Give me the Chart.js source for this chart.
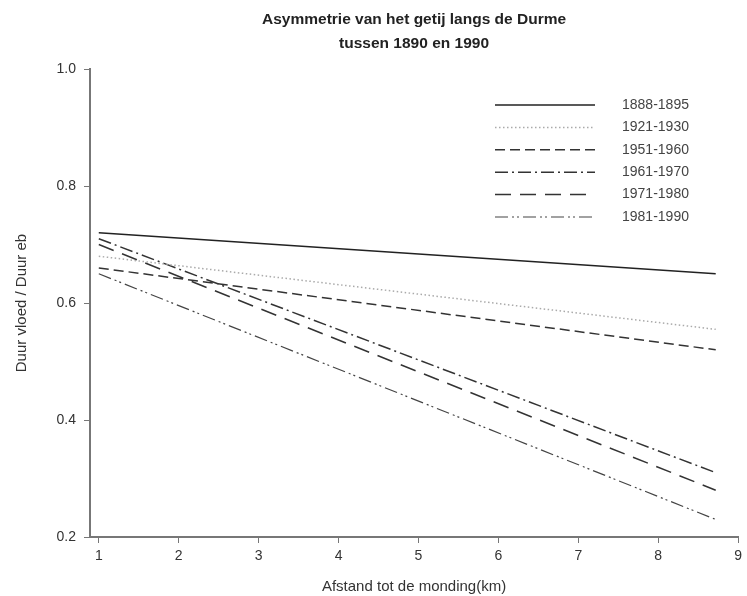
<!DOCTYPE html>
<html>
<head>
<meta charset="utf-8">
<script src="https://cdn.jsdelivr.net/npm/chart.js@4/dist/chart.umd.min.js"></script>
<style>
  html, body { margin: 0; padding: 0; background: #fff; }
  #wrap { width: 747px; height: 596px; }
</style>
</head>
<body>
<div id="wrap"><canvas id="tideChart"></canvas></div>
<script>
// data
const distance = [1, 8.72];
const periods = ['1888-1895', '1921-1930', '1951-1960', '1961-1970', '1971-1980', '1981-1990'];
const ratio1888 = [0.72, 0.65];
const ratio1921 = [0.68, 0.555];
const ratio1951 = [0.66, 0.52];
const ratio1961 = [0.71, 0.31];
const ratio1971 = [0.70, 0.28];
const ratio1981 = [0.65, 0.23];
const xTicks = [1, 2, 3, 4, 5, 6, 7, 8, 9];
const yTicks = [0.2, 0.4, 0.6, 0.8, 1.0];

const seriesValues = [ratio1888, ratio1921, ratio1951, ratio1961, ratio1971, ratio1981];
const lineStyles = [
  { color: '#222', dash: [], width: 1.5 },
  { color: '#aaa', dash: [1.5, 2.5], width: 1.5 },
  { color: '#333', dash: [10, 5], width: 1.5 },
  { color: '#333', dash: [13, 4, 2, 4], width: 1.5 },
  { color: '#333', dash: [16, 9], width: 1.5 },
  { color: '#444', dash: [13, 4, 2, 3, 2, 4], width: 1.2 }
];

const FONT = '"Liberation Sans", Arial, sans-serif';

const datasets = periods.map((label, i) => ({
  label: label,
  data: distance.map((d, j) => ({ x: d, y: seriesValues[i][j] })),
  borderColor: lineStyles[i].color,
  borderDash: lineStyles[i].dash,
  borderWidth: lineStyles[i].width,
  pointRadius: 0,
  fill: false,
  tension: 0
}));

// legend drawn inside the plot, top right
const innerLegend = {
  id: 'innerLegend',
  afterDraw(chart) {
    const ctx = chart.ctx;
    ctx.save();
    ctx.font = '14px ' + FONT;
    ctx.fillStyle = '#444';
    ctx.textBaseline = 'middle';
    chart.data.datasets.forEach((ds, i) => {
      const y = 105 + i * 22.4;
      ctx.beginPath();
      ctx.strokeStyle = ds.borderColor;
      ctx.lineWidth = ds.borderWidth;
      ctx.setLineDash(ds.borderDash);
      ctx.moveTo(495, y);
      ctx.lineTo(595, y);
      ctx.stroke();
      ctx.setLineDash([]);
      ctx.fillText(ds.label, 622, y);
    });
    ctx.restore();
  }
};

const ctx = document.getElementById('tideChart').getContext('2d');
new Chart(ctx, {
  type: 'line',
  data: { datasets: datasets },
  plugins: [innerLegend],
  options: {
    responsive: true,
    maintainAspectRatio: false,
    animation: false,
    layout: { padding: { left: 0, right: 0, top: 0, bottom: 0 } },
    plugins: {
      legend: { display: false },
      tooltip: { enabled: false },
      title: {
        display: true,
        fullSize: false,
        text: ['Asymmetrie van het getij langs de Durme', 'tussen 1890 en 1990'],
        color: '#222',
        font: { family: FONT, size: 15.5, weight: 'bold', lineHeight: 1.55 },
        padding: { top: 8, bottom: 13 }
      }
    },
    scales: {
      x: {
        type: 'linear',
        min: 0.89,
        max: 9,
        afterBuildTicks: scale => { scale.ticks = xTicks.map(v => ({ value: v })); },
        afterFit: scale => { scale.height = 59; },
        grid: { drawOnChartArea: false, drawTicks: true, tickLength: 6, color: '#777' },
        border: { color: '#777', width: 2 },
        ticks: { color: '#333', font: { family: FONT, size: 14 }, padding: 5, maxRotation: 0 },
        title: {
          display: true,
          text: 'Afstand tot de monding(km)',
          color: '#333',
          font: { family: FONT, size: 15 },
          padding: { top: 4, bottom: 0 }
        }
      },
      y: {
        min: 0.2,
        max: 1.0,
        afterBuildTicks: scale => { scale.ticks = yTicks.map(v => ({ value: v })); },
        afterFit: scale => { scale.width = 90; },
        grid: { drawOnChartArea: false, drawTicks: true, tickLength: 6, color: '#777' },
        border: { color: '#777', width: 2 },
        ticks: {
          color: '#333',
          font: { family: FONT, size: 14 },
          padding: 8,
          callback: v => v.toFixed(1)
        },
        title: {
          display: true,
          text: 'Duur vloed / Duur eb',
          color: '#333',
          font: { family: FONT, size: 15 },
          padding: { top: 13, bottom: 6 }
        }
      }
    }
  }
});
</script>
</body>
</html>
